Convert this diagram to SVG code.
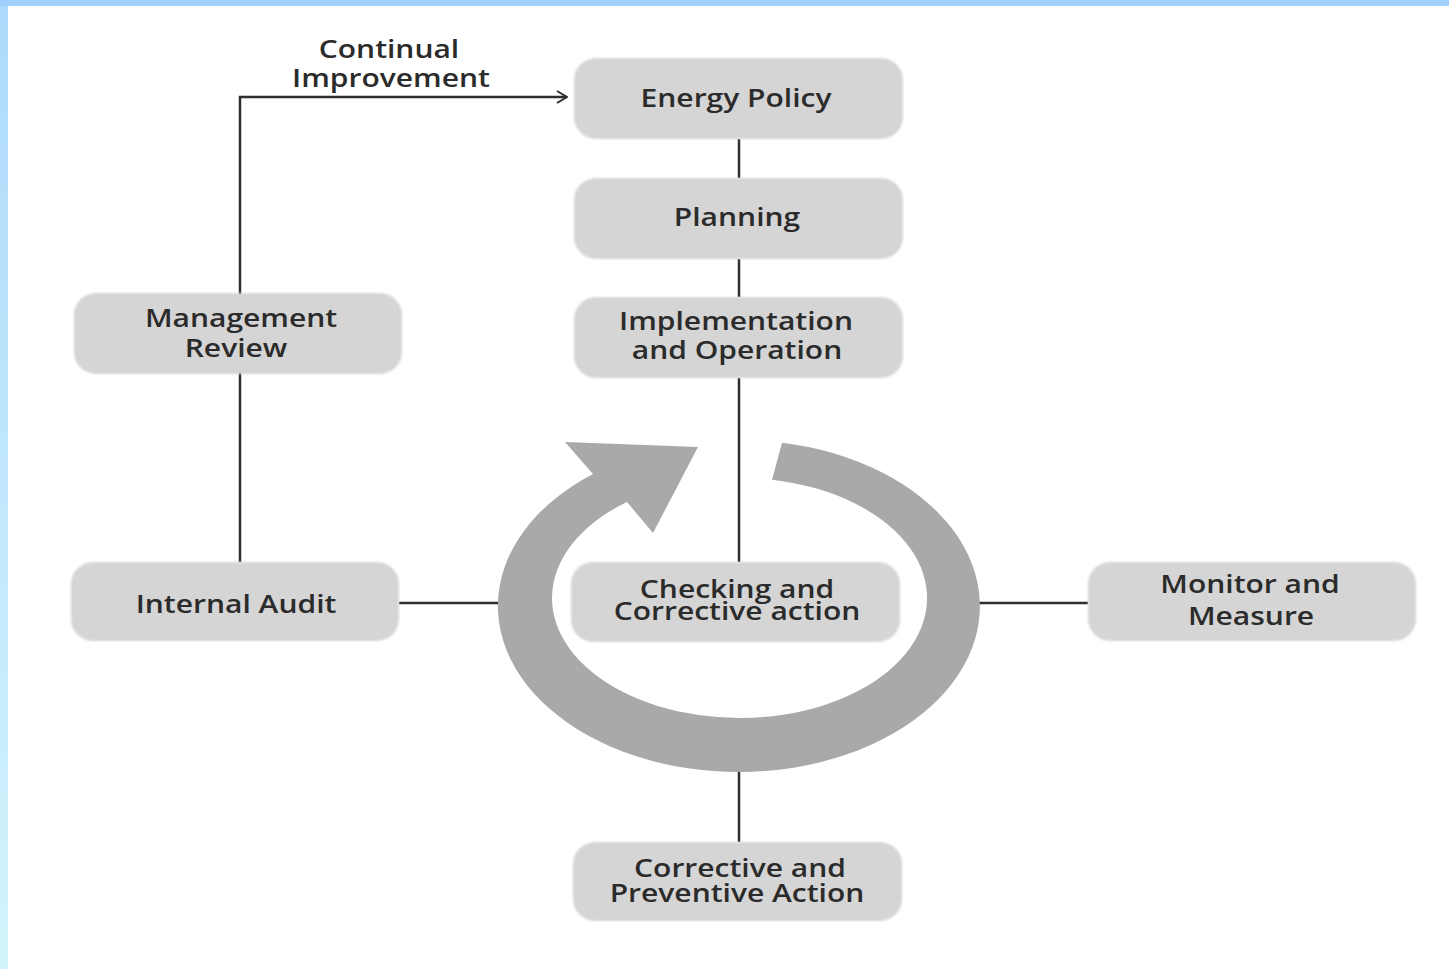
<svg xmlns="http://www.w3.org/2000/svg" width="1449" height="969" viewBox="0 0 1449 969">
  <style>
    .box { fill: #d5d5d5; }
    .lbl { font-family: "Open Sans", "Liberation Sans", sans-serif; font-size: 25px; font-weight: 600; fill: #2b2b2b; text-anchor: middle; }
    .wire { fill: none; stroke: #2e2e2e; stroke-width: 2.5; }
  </style>
  <defs>
    <linearGradient id="sideBar" x1="0" y1="0" x2="0" y2="1">
      <stop offset="0" stop-color="#aedafb"/>
      <stop offset="1" stop-color="#d2f4fc"/>
    </linearGradient>
    <filter id="soft" x="-5%" y="-10%" width="110%" height="120%">
      <feGaussianBlur stdDeviation="1.2"/>
    </filter>
    <marker id="chev" viewBox="0 0 12 14" refX="11" refY="7" markerWidth="12" markerHeight="14" markerUnits="userSpaceOnUse" orient="auto">
      <path d="M1,1 L11,7 L1,13" fill="none" stroke="#2e2e2e" stroke-width="2"/>
    </marker>
  </defs>

  <!-- page -->
  <rect x="0" y="0" width="1449" height="969" fill="#ffffff"/>
  <rect x="0" y="0" width="1449" height="6" fill="#9fd0fb"/>
  <rect x="0" y="6" width="8" height="963" fill="url(#sideBar)"/>

  <!-- connectors -->
  <g id="connectors">
    <path class="wire" d="M240,562 V97 H567" marker-end="url(#chev)"/>
    <line class="wire" x1="739" y1="139" x2="739" y2="178"/>
    <line class="wire" x1="739" y1="259" x2="739" y2="297"/>
    <line class="wire" x1="739" y1="378" x2="739" y2="562"/>
    <line class="wire" x1="739" y1="770" x2="739" y2="842"/>
    <line class="wire" x1="399" y1="603" x2="500" y2="603"/>
    <line class="wire" x1="978" y1="603" x2="1088" y2="603"/>
  </g>

  <!-- cycle arrow -->
  <path id="cycle" fill="#a9a9a9" d="M782,442.7 A241,166 0 1 1 593,473.9 L565,442 L698,447 L653,533 L627,502 A187.5,120 0 1 0 772,479.8 Z"/>

  <!-- labels are set in a slightly widened face -->
  <g id="energy-policy">
    <rect class="box" x="574" y="58" width="329" height="81" rx="22" filter="url(#soft)"/>
    <text class="lbl" transform="translate(736,107) scale(1.2,1)">Energy Policy</text>
  </g>
  <g id="planning">
    <rect class="box" x="574" y="178" width="329" height="81" rx="22" filter="url(#soft)"/>
    <text class="lbl" transform="translate(737,226) scale(1.2,1)">Planning</text>
  </g>
  <g id="implementation">
    <rect class="box" x="574" y="297" width="329" height="81" rx="22" filter="url(#soft)"/>
    <text class="lbl" transform="translate(736,330) scale(1.2,1)">Implementation</text>
    <text class="lbl" transform="translate(737,359) scale(1.2,1)">and Operation</text>
  </g>
  <g id="checking">
    <rect class="box" x="571" y="562" width="329" height="80" rx="22" filter="url(#soft)"/>
    <text class="lbl" transform="translate(737,598) scale(1.2,1)">Checking and</text>
    <text class="lbl" transform="translate(737,620) scale(1.2,1)">Corrective action</text>
  </g>
  <g id="corrective-preventive">
    <rect class="box" x="573" y="842" width="329" height="79" rx="22" filter="url(#soft)"/>
    <text class="lbl" transform="translate(740,877) scale(1.2,1)">Corrective and</text>
    <text class="lbl" transform="translate(737,902) scale(1.2,1)">Preventive Action</text>
  </g>
  <g id="management-review">
    <rect class="box" x="74" y="293" width="328" height="81" rx="22" filter="url(#soft)"/>
    <text class="lbl" transform="translate(241,327) scale(1.2,1)">Management</text>
    <text class="lbl" transform="translate(236,357) scale(1.2,1)">Review</text>
  </g>
  <g id="internal-audit">
    <rect class="box" x="71" y="562" width="328" height="79" rx="22" filter="url(#soft)"/>
    <text class="lbl" transform="translate(236,613) scale(1.2,1)">Internal Audit</text>
  </g>
  <g id="monitor-measure">
    <rect class="box" x="1088" y="562" width="328" height="79" rx="22" filter="url(#soft)"/>
    <text class="lbl" transform="translate(1250,593) scale(1.2,1)">Monitor and</text>
    <text class="lbl" transform="translate(1251,625) scale(1.2,1)">Measure</text>
  </g>

  <!-- loop label -->
  <text class="lbl" transform="translate(389,58) scale(1.2,1)">Continual</text>
  <text class="lbl" transform="translate(391,87) scale(1.2,1)">Improvement</text>
</svg>
